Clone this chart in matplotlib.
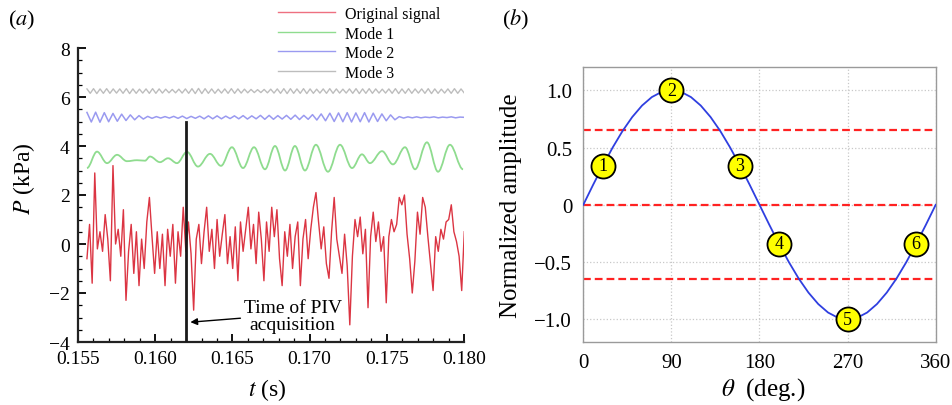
import numpy as np
import matplotlib
matplotlib.use("Agg")
import matplotlib.pyplot as plt
from matplotlib.path import Path
from matplotlib.patches import PathPatch
from matplotlib.lines import Line2D
from matplotlib.ticker import MultipleLocator

plt.rcParams["font.family"] = "serif"
plt.rcParams["font.serif"] = ["Liberation Serif", "DejaVu Serif"]
plt.rcParams["mathtext.fontset"] = "stix"

# ---- panel (a): pressure signal and modes ----
t_start, t_end = 0.15558, 0.18002
p_signal = [-0.6, 0.8, -1.6, 2.9, -0.2, 0.5, -0.3, 1.2, 0.2, -1.5, 3.2, 0.0, 0.6, -0.5, 1.4,
            -2.3, -0.3, 0.8, -1.2, 0.5, -1.7, 0.2, -1.0, 0.9, 1.9, 0.3, -1.2, 0.5, -1.0, 0.4,
            -1.7, 0.6, -0.5, 0.8, -1.6, 0.5, -0.5, 1.5, -0.3, 0.9, -0.4, -2.7, 0.2, 0.8, -0.8,
            0.5, 1.5, -0.3, 0.6, -1.0, 1.0, -0.5, 0.4, 1.2, -0.8, 0.3, -1.0, 0.7, -1.5, 0.9,
            -0.3, 0.6, 1.5, -0.2, 0.8, -0.8, 1.3, 0.2, -1.5, 0.9, -0.3, 1.5, 0.3, 1.4, -0.6,
            -1.7, 0.5, -0.5, 0.8, -1.0, 0.3, 0.9, -1.7, 0.2, 1.0, -0.6, 0.6, 1.5, 2.1, 0.9,
            -0.2, 0.7, -0.8, -1.4, 0.5, 1.9, 0.2, -0.5, -1.2, 0.4, -0.9, -3.3, -0.5, 1.0, 0.3,
            1.1, -0.4, 0.6, -2.6, 0.3, 1.3, 0.1, 0.9, -0.3, 0.3, -2.4, 0.3, 1.0, 0.5, 0.8,
            1.9, 1.6, 2.0, 0.4, -0.6, -2.0, -0.7, 1.3, 0.4, 1.9, 1.5, 0.3, -0.8, -1.9, 0.3,
            -0.3, 0.6, 0.2, 0.9, 1.0, 1.6, 0.5, 0.1, -0.5, -1.9, 0.5]

# mode 1: turning points (time, value)
mode1_t = [0.15558, 0.15623, 0.15688, 0.15753, 0.15817, 0.15882, 0.15934, 0.15966, 0.16031,
           0.16083, 0.16141, 0.16206, 0.16277, 0.16355, 0.16426, 0.16497, 0.16569, 0.16640,
           0.16711, 0.16776, 0.16841, 0.16905, 0.16970, 0.17041, 0.17119, 0.17197, 0.17275,
           0.17339, 0.17391, 0.17469, 0.17540, 0.17618, 0.17683, 0.17760, 0.17832, 0.17909,
           0.17994]
mode1_p = [3.10, 3.77, 3.30, 3.64, 3.38, 3.42, 3.40, 3.57, 3.34, 3.50, 3.30, 3.76, 3.16, 3.68,
           3.19, 3.95, 3.10, 3.95, 3.05, 4.00, 3.00, 4.00, 3.00, 4.05, 2.95, 4.05, 3.10, 3.66,
           3.30, 3.79, 3.25, 3.95, 3.05, 4.15, 2.95, 4.05, 3.05]

mode2_p = [5.37, 4.98, 5.38, 4.97, 5.36, 4.99, 5.33, 5.01, 5.30, 5.04, 5.27, 5.07, 5.24, 5.10,
           5.21, 5.13, 5.20, 5.14, 5.20, 5.14, 5.21, 5.13, 5.22, 5.12, 5.21, 5.13,
           5.22, 5.11, 5.23, 5.11, 5.23, 5.11, 5.22, 5.12, 5.23, 5.11, 5.24, 5.10, 5.23, 5.11,
           5.25, 5.09, 5.25, 5.09, 5.24, 5.10, 5.25, 5.09, 5.26, 5.08, 5.25, 5.09,
           5.28, 5.06, 5.31, 5.03, 5.34, 5.00, 5.35, 4.99, 5.36, 4.98, 5.35, 4.99, 5.36, 4.98,
           5.34, 5.00, 5.31, 5.03, 5.27, 5.07,
           5.20, 5.14, 5.19, 5.15, 5.19, 5.15, 5.18, 5.16, 5.19, 5.15, 5.18, 5.16, 5.19, 5.15,
           5.18, 5.17]

mode3_p = [6.33, 6.15, 6.34, 6.14, 6.33, 6.15, 6.34, 6.15, 6.33, 6.16, 6.33, 6.15, 6.34, 6.14,
           6.33, 6.15, 6.32, 6.16, 6.33, 6.15, 6.34, 6.15, 6.33, 6.16, 6.32, 6.17, 6.31, 6.17,
           6.32, 6.16, 6.33, 6.15, 6.34, 6.14, 6.35, 6.14, 6.34, 6.15, 6.33, 6.15, 6.32, 6.16,
           6.33, 6.15, 6.34, 6.15, 6.33, 6.16, 6.32, 6.17, 6.31, 6.18, 6.30, 6.18, 6.31, 6.17,
           6.32, 6.16, 6.33, 6.15, 6.34, 6.14, 6.34, 6.15, 6.33, 6.15, 6.34, 6.14, 6.33, 6.15,
           6.32, 6.16, 6.33, 6.15, 6.34, 6.15, 6.33, 6.16, 6.32, 6.16, 6.33, 6.15, 6.34, 6.14,
           6.33, 6.15, 6.34, 6.15, 6.33, 6.16, 6.32, 6.16, 6.33, 6.15, 6.34, 6.14, 6.33, 6.15,
           6.34, 6.15, 6.33, 6.16, 6.33, 6.15, 6.34, 6.14, 6.33, 6.15, 6.32, 6.16, 6.33, 6.15,
           6.34, 6.15, 6.33, 6.16]

t_piv = 0.162
piv_top = 5.0

legend_labels = ["Original signal", "Mode 1", "Mode 2", "Mode 3"]
colors_a = ["#d81f2e", "#8fdc8f", "#9a9af0", "#bdbdbd"]

# ---- panel (b): normalized amplitude over one cycle ----
theta = [0, 10, 20, 30, 40, 50, 60, 70, 80, 90, 100, 110, 120, 130, 140, 150, 160, 170, 180,
         190, 200, 210, 220, 230, 240, 250, 260, 270, 280, 290, 300, 310, 320, 330, 340, 350, 360]
amp = [0.0, 0.174, 0.342, 0.5, 0.643, 0.766, 0.866, 0.94, 0.985, 1.0, 0.985, 0.94, 0.866,
       0.766, 0.643, 0.5, 0.342, 0.174, 0.0, -0.174, -0.342, -0.5, -0.643, -0.766, -0.866,
       -0.94, -0.985, -1.0, -0.985, -0.94, -0.866, -0.766, -0.643, -0.5, -0.342, -0.174, 0.0]
phase_theta = [20, 90, 160, 200, 270, 340]
phase_amp = [0.342, 1.0, 0.342, -0.342, -1.0, -0.342]
phase_labels = ["1", "2", "3", "4", "5", "6"]
thresholds = [0.65, 0.0, -0.65]


def smooth_path(ts, vs):
    verts = [(ts[0], vs[0])]
    codes = [Path.MOVETO]
    for i in range(1, len(ts)):
        dt = ts[i] - ts[i - 1]
        verts += [(ts[i - 1] + 0.36 * dt, vs[i - 1]), (ts[i] - 0.36 * dt, vs[i]), (ts[i], vs[i])]
        codes += [Path.CURVE4] * 3
    return Path(verts, codes)


fig = plt.figure(figsize=(9.53, 4.06), dpi=100)
W, H = 953, 406

ax1 = fig.add_axes([78 / W, 1 - 343 / H, 386 / W, 294 / H])
t_sig = np.linspace(t_start, t_end, len(p_signal))
ax1.plot(t_sig, p_signal, color=colors_a[0], lw=1.0, alpha=0.9)
ax1.add_patch(PathPatch(smooth_path(mode1_t, mode1_p), fill=False, edgecolor=colors_a[1], lw=1.3))
ax1.plot(np.linspace(t_start, t_end, len(mode2_p)), mode2_p, color=colors_a[2], lw=1.1)
ax1.plot(np.linspace(t_start, t_end, len(mode3_p)), mode3_p, color=colors_a[3], lw=1.0)
ax1.plot([t_piv, t_piv], [-4, piv_top], color="#1a1a1a", lw=2.0, zorder=5)

ax1.annotate("", xy=(t_piv + 0.0001, -3.2), xytext=(0.1657, -3.02),
             arrowprops=dict(arrowstyle="-|>", color="black", lw=1.0, mutation_scale=10))
ax1.text(0.1689, -2.95, "Time of PIV\nacquisition", fontsize=14, ha="center", va="center",
         linespacing=1.0)

ax1.set_xlim(0.155, 0.180)
ax1.set_ylim(-4, 8)
ax1.set_xticks([0.155, 0.160, 0.165, 0.170, 0.175, 0.180])
ax1.set_xticklabels(["0.155", "0.160", "0.165", "0.170", "0.175", "0.180"])
ax1.set_yticks([-4, -2, 0, 2, 4, 6, 8])
ax1.set_yticklabels(["\u22124", "\u22122", "0", "2", "4", "6", "8"])
ax1.xaxis.set_minor_locator(MultipleLocator(0.001))
ax1.yaxis.set_minor_locator(MultipleLocator(0.5))
for side in ["top", "right"]:
    ax1.spines[side].set_visible(False)
for side in ["left", "bottom"]:
    ax1.spines[side].set_linewidth(1.6)
    ax1.spines[side].set_color("#222222")
ax1.tick_params(which="major", direction="in", length=6, width=1.3, labelsize=14, pad=6)
ax1.tick_params(which="minor", direction="in", length=3, width=0.9)
ax1.set_ylabel("$P$ (kPa)", fontsize=17)
ax1.yaxis.set_label_coords(-0.105, 0.56)
ax1.set_xlabel("$t$ (s)", fontsize=17)
ax1.xaxis.set_label_coords(0.49, -0.115)

handles = [Line2D([], [], color=c, lw=1.0) for c in colors_a]
handles[0].set_color("#ee7080")
fig.legend(handles, legend_labels, loc="upper left", bbox_to_anchor=(278 / W, 1 - 7 / H),
           frameon=False, fontsize=11.5, handlelength=3.6, handletextpad=0.6,
           labelspacing=0.22, borderpad=0, borderaxespad=0)

fig.text(8 / W, 1 - 20 / H, "($a$)", fontsize=16, va="center", ha="left")
fig.text(502 / W, 1 - 20 / H, "($b$)", fontsize=16, va="center", ha="left")

# ---- panel (b) ----
ax2 = fig.add_axes([583.3 / W, 1 - 343.3 / H, 352.4 / W, 275 / H])
ax2.plot(theta, amp, color="#2f3fe0", lw=1.3, zorder=3)
for lvl in thresholds:
    ax2.axhline(lvl, color="#ff2222", lw=1.6, ls=(0, (3.5, 1.8)), zorder=2)
ax2.scatter(phase_theta, phase_amp, s=300, facecolor="#ffff00", edgecolor="black",
            linewidth=1.3, zorder=4)
for th, a, lab in zip(phase_theta, phase_amp, phase_labels):
    ax2.text(th, a, lab, fontsize=13, ha="center", va="center", zorder=5)

ax2.set_xlim(0, 360)
ax2.set_ylim(-1.2, 1.2)
ax2.set_xticks([0, 90, 180, 270, 360])
ax2.set_yticks([-1.0, -0.5, 0, 0.5, 1.0])
ax2.set_yticklabels(["\u22121.0", "\u22120.5", "0", "0.5", "1.0"])
ax2.grid(True, ls=":", color="#c8c8c8", lw=0.9)
ax2.set_axisbelow(True)
for s in ax2.spines.values():
    s.set_color("#9a9a9a")
    s.set_linewidth(1.0)
ax2.tick_params(length=0, labelsize=15, pad=8)
ax2.set_ylabel("Normalized amplitude", fontsize=18)
ax2.yaxis.set_label_coords(-0.175, 0.5)
ax2.set_xlabel(r"$\theta$  (deg.)", fontsize=18)
ax2.xaxis.set_label_coords(0.51, -0.12)

fig.savefig("out.png", dpi=100)
